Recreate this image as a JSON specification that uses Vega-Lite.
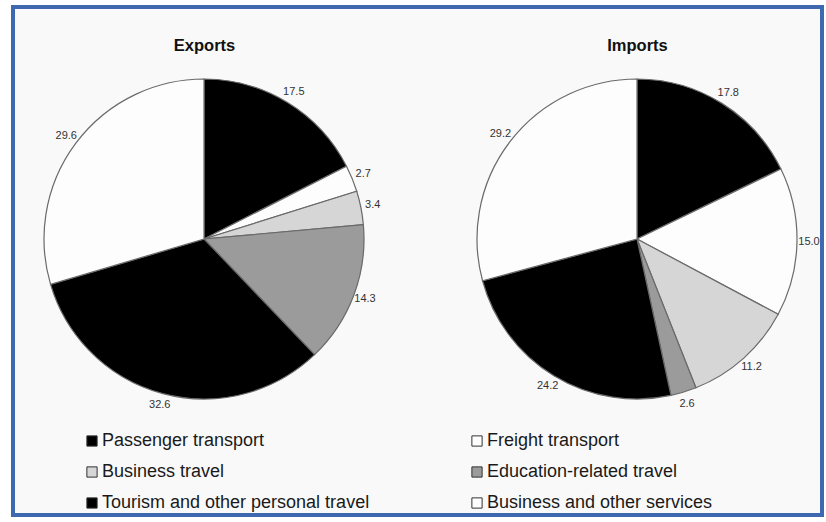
{
  "$schema": "https://vega.github.io/schema/vega-lite/v6.json",
  "width": 809,
  "height": 508,
  "autosize": {"type": "none"},
  "padding": {"left": 13, "top": 7, "right": 4, "bottom": 7},
  "background": "#ffffff",
  "config": {
    "view": {"stroke": "#3e68b0", "strokeWidth": 4, "fill": "#f9f9f9"},
    "font": "Liberation Sans"
  },
  "data": {
    "values": [
      {"chart": "Exports", "category": "Passenger transport", "value": 17.5, "order": 1},
      {"chart": "Exports", "category": "Freight transport", "value": 2.7, "order": 2},
      {"chart": "Exports", "category": "Business travel", "value": 3.4, "order": 3},
      {"chart": "Exports", "category": "Education-related travel", "value": 14.3, "order": 4},
      {"chart": "Exports", "category": "Tourism and other personal travel", "value": 32.6, "order": 5},
      {"chart": "Exports", "category": "Business and other services", "value": 29.6, "order": 6},
      {"chart": "Imports", "category": "Passenger transport", "value": 17.8, "order": 1},
      {"chart": "Imports", "category": "Freight transport", "value": 15.0, "order": 2},
      {"chart": "Imports", "category": "Business travel", "value": 11.2, "order": 3},
      {"chart": "Imports", "category": "Education-related travel", "value": 2.6, "order": 4},
      {"chart": "Imports", "category": "Tourism and other personal travel", "value": 24.2, "order": 5},
      {"chart": "Imports", "category": "Business and other services", "value": 29.2, "order": 6}
    ]
  },
  "encoding": {
    "x": {
      "field": "chart", "type": "nominal",
      "scale": {"type": "point", "padding": 0.4342, "align": 0.508},
      "axis": {"orient": "top", "title": null, "domain": false, "ticks": false, "grid": false,
               "labelFontSize": 16.5, "labelFontWeight": "bold", "labelColor": "#111111",
               "labelPadding": -46, "labelAngle": 0}
    },
    "y": {
      "datum": "pie", "type": "nominal",
      "scale": {"type": "point", "padding": 0.5, "align": 0.4567},
      "axis": null
    },
    "order": {"field": "order", "type": "quantitative"}
  },
  "layer": [
    {
      "transform": [
        {"stack": "value", "groupby": ["chart"], "sort": [{"field": "order", "order": "ascending"}], "offset": "normalize", "as": ["v0", "v1"]}
      ],
      "mark": {"type": "arc", "radius": 160, "stroke": "#6a6a6a", "strokeWidth": 1.2},
      "encoding": {
        "theta": {"field": "v0", "type": "quantitative", "scale": {"domain": [0, 1]}},
        "theta2": {"field": "v1"},
        "color": {
          "field": "category", "type": "nominal",
          "scale": {
            "domain": ["Passenger transport", "Freight transport", "Business travel", "Education-related travel", "Tourism and other personal travel", "Business and other services"],
            "range": ["#000000", "#fdfdfd", "#d6d6d6", "#9b9b9b", "#000000", "#fdfdfd"]
          },
          "legend": {
            "orient": "none", "legendX": 70, "legendY": 425, "title": null,
            "direction": "horizontal",
            "columns": 2, "columnPadding": 98, "rowPadding": 13, "padding": 0,
            "symbolType": "square", "symbolSize": 105, "symbolStrokeColor": "#333333", "symbolStrokeWidth": 1,
            "labelFontSize": 18, "labelColor": "#1a1a1a", "labelOffset": 1, "labelLimit": 400
          }
        }
      }
    },
    {
      "mark": {"type": "text", "fontSize": 11, "color": "#333333"},
      "encoding": {
        "theta": {"field": "value", "type": "quantitative", "stack": "normalize"},
        "radius": {"field": "chart", "type": "nominal", "scale": {"type": "point", "range": [172, 172]}},
        "text": {"field": "value", "type": "quantitative", "format": ".1f"}
      }
    }
  ]
}
